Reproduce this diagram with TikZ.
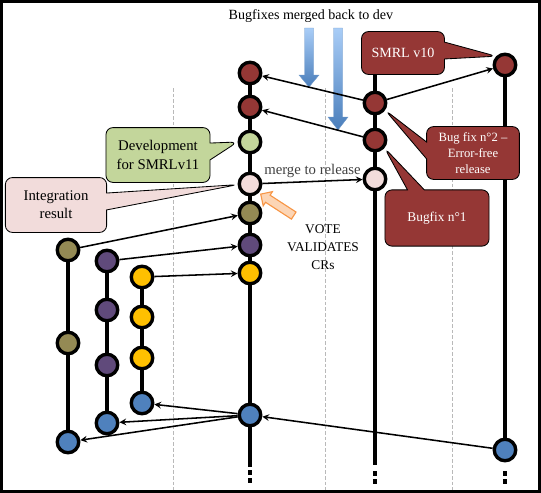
\documentclass[tikz,border=0pt]{standalone}
\usepackage{fontspec}
\setmainfont{Liberation Serif}
\usetikzlibrary{shapes.callouts,shapes.arrows,backgrounds}

\definecolor{fixred}{HTML}{953735}
\definecolor{devgreen}{HTML}{C3D69B}
\definecolor{intpink}{HTML}{F2DCDB}
\definecolor{crolive}{HTML}{948A54}
\definecolor{crpurple}{HTML}{604A7B}
\definecolor{cryellow}{HTML}{FFC000}
\definecolor{crblue}{HTML}{4F81BD}
\definecolor{flowtop}{HTML}{A9CDF7}
\definecolor{flowbot}{HTML}{4A7EBB}
\definecolor{votefill}{HTML}{FCD5B5}
\definecolor{voteline}{HTML}{F79646}

\begin{document}
\begin{tikzpicture}[x=0.025cm, y=-0.025cm, >=stealth,
  commit/.style={circle, draw=black, line width=2.4pt, minimum size=15.3pt, inner sep=0pt},
  branch/.style={line width=2.8pt},
  tail/.style={line width=2.8pt, dash pattern=on 3.5pt off 2.2pt},
  merge/.style={->, line width=1.1pt},
  guide/.style={gray!55, line width=0.6pt, dash pattern=on 2.5pt off 1.5pt},
  callbox/.style={rectangle callout, rounded corners=5pt, draw=black, line width=0.6pt,
    align=center, inner sep=1pt, callout pointer width=12pt},
  backdown/.style={top color=flowtop, bottom color=flowbot, draw=flowbot!80, line width=0.3pt}]

  \useasboundingbox (0,0) rectangle (541,493);

  % ---- commits on dev ----
  \node[commit, fill=fixred]   (devA) at (250,73)  {};
  \node[commit, fill=fixred]   (devB) at (250,107) {};
  \node[commit, fill=devgreen] (devC) at (250,142) {};
  \node[commit, fill=intpink]  (devD) at (250,184) {};
  \node[commit, fill=crolive]  (devE) at (250,213) {};
  \node[commit, fill=crpurple] (devF) at (250,245) {};
  \node[commit, fill=cryellow] (devG) at (250,273) {};
  \node[commit, fill=crblue]   (devH) at (250,415) {};

  % ---- release branch ----
  \node[commit, fill=fixred]  (relA) at (375,103) {};
  \node[commit, fill=fixred]  (relB) at (375,140) {};
  \node[commit, fill=intpink] (relC) at (375,179) {};

  % ---- SMRL v10 ----
  \node[commit, fill=fixred] (smrlA) at (505,65)  {};
  \node[commit, fill=crblue] (smrlB) at (505,450) {};

  % ---- CR branches ----
  \node[commit, fill=crolive] (olA) at (68,250) {};
  \node[commit, fill=crolive] (olB) at (68,343) {};
  \node[commit, fill=crblue]  (olC) at (68,442) {};

  \node[commit, fill=crpurple] (puA) at (107,261) {};
  \node[commit, fill=crpurple] (puB) at (107,310) {};
  \node[commit, fill=crpurple] (puC) at (107,365) {};
  \node[commit, fill=crblue]   (puD) at (107,423) {};

  \node[commit, fill=cryellow] (yeA) at (142,277) {};
  \node[commit, fill=cryellow] (yeB) at (142,317) {};
  \node[commit, fill=cryellow] (yeC) at (142,358) {};
  \node[commit, fill=crblue]   (yeD) at (142,403) {};

  % ends of the long branches
  \coordinate (devEnd)  at (250,467);
  \coordinate (relTop)  at (375,70);
  \coordinate (relEnd)  at (375,465);
  \coordinate (smrlEnd) at (505,463);

  \begin{scope}[on background layer]
    % frame and time guides
    \draw[line width=2.1pt] (1.5,1.5) rectangle (539.5,491.5);
    \foreach \gx in {173,325,452}
      \draw[guide] (\gx,88) -- (\gx,490);

    % bugfixes flowing back
    \shadedraw[backdown] (304.5,28) -- (313.5,28) -- (313.5,75) -- (319,75) -- (309,87)
      -- (299,75) -- (304.5,75) -- cycle;
    \shadedraw[backdown] (333.5,28) -- (342.5,28) -- (342.5,117) -- (348,117) -- (338,130)
      -- (328,117) -- (333.5,117) -- cycle;

    % branch lines
    \draw[branch] (devA.center) -- (devEnd);
    \draw[branch] (relTop) -- (relEnd);
    \draw[branch] (smrlA.center) -- (smrlB.center);
    \draw[branch] (olA.center) -- (olC.center);
    \draw[branch] (puA.center) -- (puD.center);
    \draw[branch] (yeA.center) -- (yeD.center);
    \draw[tail] (devEnd) ++(0,3) -- ++(0,15);
    \draw[tail] (relEnd) ++(0,6) -- ++(0,15);
    \draw[tail] (smrlEnd) ++(0,8) -- ++(0,15);
  \end{scope}

  % ---- merges ----
  \draw[merge] (relA) -- (devA);
  \draw[merge] (relB) -- (devB);
  \draw[merge] (relA) -- (smrlA);
  \draw[merge] (devD) -- node[above=-1pt, text=black!75, font=\fontsize{10.5}{12}\selectfont]
    (mergelbl) {merge to release} (relC);
  \draw[merge] (olA) -- (devE);
  \draw[merge] (puA) -- (devF);
  \draw[merge] (yeA) -- (devG);
  \draw[merge] (devH) -- (yeD);
  \draw[merge] (devH) -- (puD);
  \draw[merge] (devH) -- (olC);
  \draw[merge] (smrlB) -- (devH);

  % ---- texts ----
  \node[font=\fontsize{10}{12}\selectfont] (title) at (311,16) {Bugfixes merged back to dev};
  \node[align=center, font=\fontsize{9.5}{13}\selectfont] (vote) at (323,247) {VOTE\\VALIDATES\\CRs};
  \node[single arrow, draw=voteline, fill=votefill, line width=0.8pt, minimum height=28pt,
    single arrow head extend=3pt, inner sep=2.6pt, rotate=147]
    (votearrow) at (279,206) {};

  % ---- callouts ----
  \node[callbox, fill=fixred, text=white, minimum width=59pt, minimum height=30.5pt,
    font=\fontsize{10}{12}\selectfont, callout absolute pointer={(smrlA.135)}]
    (smrlnote) at (403,53) {SMRL v10};
  \node[callbox, fill=fixred, text=white, minimum width=66pt, minimum height=37.6pt,
    font=\fontsize{9}{11.5}\selectfont, callout absolute pointer={(relA.-35)}]
    (fixtwo) at (473,153) {Bug fix n°2 --\\Error-free\\release};
  \node[callbox, fill=fixred, text=white, minimum width=74pt, minimum height=40pt,
    font=\fontsize{9.5}{12}\selectfont, callout absolute pointer={(relB.-40)}]
    (fixone) at (437,218) {Bugfix n°1};
  \node[callbox, fill=devgreen, minimum width=74pt, minimum height=39pt,
    font=\fontsize{10.5}{13}\selectfont, callout absolute pointer={(devC.west)}]
    (devnote) at (158,155) {Development\\for SMRLv11};
  \node[callbox, fill=intpink, minimum width=72pt, minimum height=39pt,
    font=\fontsize{10.5}{13}\selectfont, callout absolute pointer={(devD.183)}]
    (intnote) at (56,205) {Integration\\result};

\end{tikzpicture}
\end{document}
